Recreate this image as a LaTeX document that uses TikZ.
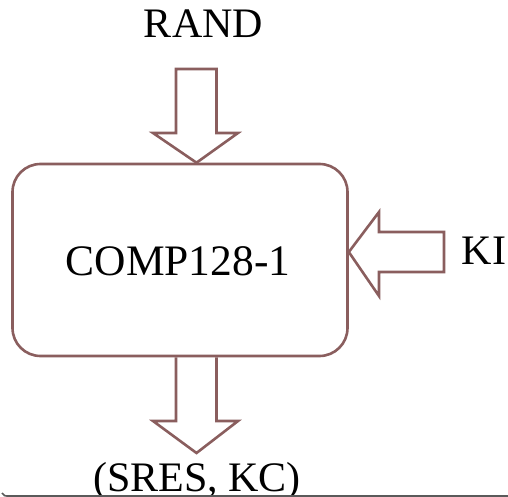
\documentclass[tikz,border=0pt]{standalone}
\usepackage{fontspec}
\setmainfont{Liberation Serif}
\definecolor{edge}{RGB}{138,94,94}
\definecolor{frame}{RGB}{90,90,90}
\begin{document}
\begin{tikzpicture}[x=1pt,y=-1pt,
  outline/.style={draw=edge,line width=2.6pt,line join=miter},
  label/.style={font=\fontsize{42}{42}\selectfont,inner sep=0pt,anchor=base}]
\useasboundingbox (0,0) rectangle (508,497);
\fill[white] (0,0) rectangle (508,497);

% the algorithm block
\node[outline,rounded corners=28pt,minimum width=335pt,minimum height=192pt,
      inner sep=0pt] (comp) at (180,260) {};
\node[label,font=\fontsize{43.5}{43.5}\selectfont] (name) at (178,275) {COMP128-1};

% inputs and output
\node[label] (rand) at (203.5,38) {RAND};
\node[label] (ki) at (484,264) {KI};
\node[label] (out) at (197,491) {(SRES, KC)};

% block arrow from RAND down into the box
\coordinate (ttip) at (196.5,0 |- comp.north);
\draw[outline] (ttip) -- (153,133) -- (176,133) -- (176,69) -- (216.5,69)
  -- (216.5,133) -- (238,133) -- cycle;

% block arrow from KI left into the box
\coordinate (rtip) at (comp.east |- 0,252);
\draw[outline] (rtip) -- (379,212) -- (379,232) -- (444,232) -- (444,272)
  -- (379,272) -- (379,296) -- cycle;

% block arrow from the box down to the result
\coordinate (bbase) at (196.5,0 |- comp.south);
\draw[outline] (176,0 |- bbase) -- (176,421) -- (153,421) -- (196.5,453)
  -- (238,421) -- (216.5,421) -- (216.5,0 |- bbase);

% page frame edge
\draw[frame,line width=1.6pt] (2,493) .. controls (4,496) .. (10,496) -- (508,496);
\end{tikzpicture}
\end{document}
